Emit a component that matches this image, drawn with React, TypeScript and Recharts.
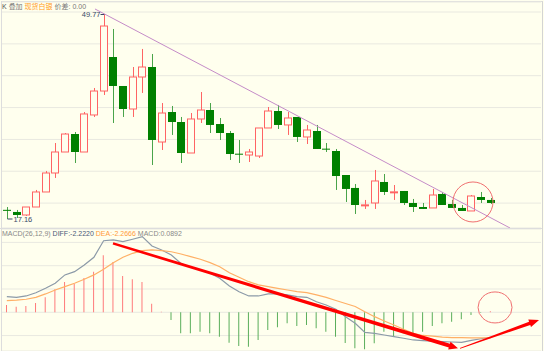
import { ComposedChart, Bar, Line, XAxis, YAxis, CartesianGrid, Cell, ReferenceLine, ReferenceDot } from 'recharts'

// K 线（开 高 低 收）
const OPEN = [18.62, 18.28, 17.80, 19.07, 21.46, 24.48, 27.82, 30.68, 27.82, 33.71, 37.52, 42.93, 38.32, 34.66, 39.75, 41.34, 29.41, 34.18, 32.59, 27.66, 33.07, 34.50, 32.27, 30.84, 27.55, 27.34, 27.18, 31.64, 34.34, 32.12, 33.39, 30.21, 31.16, 28.35, 27.98, 24.16, 22.10, 19.37, 19.71, 23.05, 21.43, 21.62, 19.71, 19.07, 18.92, 21.14, 19.55, 18.92, 18.44, 20.66, 20.19]
const HIGH = [19.07, 18.60, 19.07, 21.78, 24.80, 29.25, 30.84, 31.00, 34.18, 38.00, 49.77, 47.39, 38.32, 41.34, 44.21, 43.41, 35.61, 35.14, 33.39, 34.02, 37.36, 35.61, 33.23, 31.16, 29.73, 28.30, 31.64, 34.98, 35.30, 34.18, 33.39, 32.12, 32.12, 29.25, 28.30, 24.16, 22.73, 20.19, 24.96, 24.32, 22.57, 21.62, 20.35, 19.71, 21.94, 21.46, 20.19, 19.39, 20.98, 21.46, 20.50]
const LOW = [17.16, 17.32, 17.64, 19.07, 21.46, 23.69, 27.82, 26.07, 27.82, 33.39, 36.89, 32.43, 33.39, 33.39, 37.21, 25.75, 28.14, 30.53, 26.07, 27.66, 32.43, 30.84, 29.73, 26.55, 26.07, 26.23, 26.87, 31.64, 31.48, 30.53, 29.41, 29.09, 28.30, 27.82, 21.78, 19.87, 17.96, 18.76, 18.76, 20.98, 20.19, 19.39, 18.28, 18.76, 18.92, 19.39, 18.92, 18.44, 18.44, 19.71, 19.55]
const CLOSE = [18.58, 17.80, 19.07, 21.46, 24.48, 27.82, 30.68, 27.82, 33.87, 37.52, 47.86, 38.32, 34.66, 39.75, 41.34, 29.73, 34.02, 32.59, 27.66, 33.07, 34.50, 32.12, 30.84, 27.50, 27.45, 27.82, 31.64, 34.34, 32.12, 33.23, 30.21, 31.32, 28.30, 28.25, 24.00, 21.94, 19.39, 19.41, 23.21, 21.46, 21.48, 19.71, 19.07, 18.76, 20.98, 19.39, 18.92, 18.44, 20.82, 20.19, 19.71]

// MACD(26,12,9)
const DIFF = [1.39, 1.33, 1.45, 1.74, 2.13, 2.58, 3.32, 3.61, 4.20, 4.89, 6.36, 6.43, 6.28, 6.49, 6.72, 5.89, 5.54, 5.09, 4.34, 4.00, 3.76, 3.47, 3.02, 2.34, 1.83, 1.45, 1.45, 1.63, 1.63, 1.54, 1.39, 1.33, 0.94, 0.65, 0.27, -0.39, -0.98, -1.78, -1.87, -2.02, -2.17, -2.31, -2.46, -2.52, -2.57, -2.61, -2.64, -2.67, -2.50, -2.35, -2.22]
const DEA = [1.03, 1.08, 1.16, 1.33, 1.63, 1.98, 2.28, 2.58, 2.93, 3.32, 3.82, 4.41, 4.89, 5.24, 5.48, 5.54, 5.48, 5.38, 5.18, 4.94, 4.71, 4.41, 4.05, 3.52, 3.11, 2.72, 2.43, 2.28, 2.13, 1.98, 1.83, 1.74, 1.54, 1.33, 1.05, 0.78, 0.52, 0.05, -0.39, -0.77, -1.13, -1.51, -1.87, -2.06, -2.12, -2.21, -2.25, -2.26, -2.27, -2.28, -2.27]
const MACD = [0.65, 0.50, 0.56, 0.83, 1.33, 2.04, 2.69, 2.52, 3.05, 3.61, 5.07, 4.47, 3.23, 2.93, 2.69, 0.76, 0.05, -0.68, -1.87, -1.87, -1.72, -1.87, -2.17, -2.70, -3.00, -3.06, -2.46, -1.57, -1.33, -0.98, -1.22, -1.13, -1.42, -1.72, -2.17, -2.73, -3.20, -3.29, -2.76, -1.72, -2.17, -1.87, -1.87, -1.72, -1.22, -0.98, -0.84, -0.62, -0.24, -0.05, 0.09]

const PRICE_TICKS = [19.69, 24.76, 29.82, 34.89, 39.96, 45.02, 50.09]
const MACD_TICKS = [-2.07, 0, 2.07, 4.14, 6.21]

const BG = '#ffffee'
const GRID = '#e9e9e0'
const UP = '#ff6464'
const DOWN = '#008000'
const DOWN_WICK = '#4aa44a'
const LABEL = '#3a4a66'

const candles = OPEN.map((o, i) => ({ i, open: o, high: HIGH[i], low: LOW[i], close: CLOSE[i] }))
const macdData = DIFF.map((d, i) => ({ i, diff: d, dea: DEA[i], macd: MACD[i] }))

const maxIdx = HIGH.indexOf(Math.max(...HIGH))
const minIdx = LOW.indexOf(Math.min(...LOW))

function Candle(props: any) {
  const { x, y, width, height, payload, index } = props
  const top = Math.min(y, y + height)
  const h = Math.abs(height)
  const k = h / (payload.high - payload.low)
  const py = (v: number) => top + (payload.high - v) * k
  const cx = Math.round(x + width / 2) + 0.5
  const up = payload.close > payload.open
  const bt = py(Math.max(payload.open, payload.close))
  let bb = py(Math.min(payload.open, payload.close))
  if (bb - bt < 1) bb = bt + 1
  const left = Math.round(x) + 0.5
  const w = Math.round(width) - 1
  return (
    <g>
      {up ? (
        <>
          <line x1={cx} x2={cx} y1={top} y2={bt} stroke={UP} />
          <line x1={cx} x2={cx} y1={bb} y2={top + h} stroke={UP} />
          <rect x={left} y={bt} width={w} height={bb - bt} fill={BG} stroke={UP} />
        </>
      ) : (
        <>
          <line x1={cx} x2={cx} y1={top} y2={top + h} stroke={DOWN_WICK} />
          <rect x={left - 0.5} y={bt} width={w + 1} height={bb - bt} fill={DOWN} />
        </>
      )}
      {index === maxIdx && (
        <>
          <line x1={cx - 4} x2={cx} y1={top + 0.5} y2={top + 0.5} stroke={LABEL} />
          <text x={cx - 4} y={top + 3} textAnchor="end" fontSize={7.5} fill={LABEL} fontFamily="Liberation Sans, Arial">{payload.high.toFixed(2)}</text>
        </>
      )}
      {index === minIdx && (
        <>
          <line x1={cx} x2={cx + 5} y1={top + h} y2={top + h} stroke={LABEL} />
          <text x={cx + 6} y={top + h + 2.5} fontSize={7.5} fill={LABEL} fontFamily="Liberation Sans, Arial">{payload.low.toFixed(2)}</text>
        </>
      )}
    </g>
  )
}

function arrow(w0: number, w1: number, headLen: number, headW: number) {
  return (p: any) => {
    const { x1, y1, x2, y2 } = p
    const dx = x2 - x1, dy = y2 - y1
    const len = Math.hypot(dx, dy)
    const ux = dx / len, uy = dy / len
    const nx = -uy, ny = ux
    const bx = x2 - ux * headLen, by = y2 - uy * headLen
    const pts = [
      [x1 + nx * w0 / 2, y1 + ny * w0 / 2],
      [bx + nx * w1 / 2, by + ny * w1 / 2],
      [bx + nx * headW / 2, by + ny * headW / 2],
      [x2, y2],
      [bx - nx * headW / 2, by - ny * headW / 2],
      [bx - nx * w1 / 2, by - ny * w1 / 2],
      [x1 - nx * w0 / 2, y1 - ny * w0 / 2],
    ]
    return <polygon points={pts.map(q => q.join(',')).join(' ')} fill="#ff0000" />
  }
}

const ring = (rx: number, ry: number) => (p: any) => (
  <ellipse cx={p.cx} cy={p.cy} rx={rx} ry={ry} fill="none" stroke="#f07070" strokeWidth={1} />
)

const X_DOMAIN: [number, number] = [-0.5, 55.2]

export default function App() {
  return (
    <div style={{ position: 'fixed', left: 0, top: 0, width: 544, height: 351, background: BG, overflow: 'hidden', fontFamily: 'Liberation Sans, Arial, sans-serif' }}>
      <div style={{ position: 'absolute', left: 1, top: 1, width: 540, height: 360, borderLeft: '1px solid #ddd', borderTop: '1px solid #ddd', borderRight: '1px solid #d4d4d4' }} />

      {/* 主图 K 线 */}
      <div style={{ position: 'absolute', left: 0, top: 0 }}>
        <ComposedChart width={544} height={229} data={candles} margin={{ top: 2, right: 3, bottom: 1, left: 2 }}>
          <CartesianGrid vertical={false} stroke={GRID} />
          <XAxis dataKey="i" type="number" domain={X_DOMAIN} hide />
          <YAxis type="number" domain={[15.73, 51.68]} ticks={PRICE_TICKS} hide />
          <Bar dataKey={(d: any) => [d.low, d.high]} barSize={8} shape={Candle} isAnimationActive={false} />
          <ReferenceLine segment={[{ x: 9.11, y: 50.57 }, { x: 52.0, y: 15.73 }]} stroke="#c58cc8" strokeWidth={1} ifOverflow="visible" />
          <ReferenceDot x={48.17} y={19.87} r={20} shape={ring(20, 20)} ifOverflow="visible" />
        </ComposedChart>
      </div>
      <div style={{ position: 'absolute', left: 0, top: 228, width: 542, borderTop: '1px solid #ddd' }} />

      {/* 副图 MACD */}
      <div style={{ position: 'absolute', left: 0, top: 229 }}>
        <ComposedChart width={544} height={122} data={macdData} margin={{ top: 0, right: 3, bottom: 0, left: 2 }}>
          <CartesianGrid vertical={false} stroke={GRID} />
          <XAxis dataKey="i" type="number" domain={X_DOMAIN} hide />
          <YAxis type="number" domain={[-3.44, 7.40]} ticks={MACD_TICKS} hide />
          <Bar dataKey="macd" barSize={1} isAnimationActive={false}>
            {macdData.map((d, i) => (
              <Cell key={i} fill={d.macd >= 0 ? '#ff7a7a' : '#5aae5a'} />
            ))}
          </Bar>
          <Line dataKey="diff" stroke="#8c9aa8" strokeWidth={1.2} dot={false} isAnimationActive={false} />
          <Line dataKey="dea" stroke="#ffb066" strokeWidth={1.2} dot={false} isAnimationActive={false} />
          <ReferenceLine segment={[{ x: 10.97, y: 6.12 }, { x: 46.62, y: -3.2 }]} shape={arrow(2.5, 4, 9, 8)} ifOverflow="visible" />
          <ReferenceLine segment={[{ x: 46.83, y: -3.2 }, { x: 55.0, y: -0.68 }]} shape={arrow(0.8, 3.5, 10, 8)} ifOverflow="visible" />
          <ReferenceDot x={50.45} y={0.43} r={16} shape={ring(17, 15.5)} ifOverflow="visible" />
        </ComposedChart>
      </div>

      {/* 标题文字 */}
      <div style={{ position: 'absolute', left: 2, top: 2, fontSize: 7, lineHeight: '10px', whiteSpace: 'nowrap', color: '#777', fontFamily: 'Liberation Sans, "Noto Sans CJK SC", sans-serif' }}>
        <span style={{ color: '#555' }}>K</span>{' '}
        <span>叠加</span>{' '}
        <span style={{ color: '#ff9a1a' }}>现货白银</span>{' '}
        <span>价差: 0.00</span>
      </div>
      <div style={{ position: 'absolute', left: 2, top: 229, fontSize: 7, lineHeight: '10px', whiteSpace: 'nowrap', color: '#888' }}>
        <span>MACD(26,12,9)</span>{' '}
        <span style={{ color: '#4a5a78' }}>DIFF:-2.2220</span>{' '}
        <span style={{ color: '#ff9a3a' }}>DEA:-2.2666</span>{' '}
        <span>MACD:0.0892</span>
      </div>
    </div>
  )
}
